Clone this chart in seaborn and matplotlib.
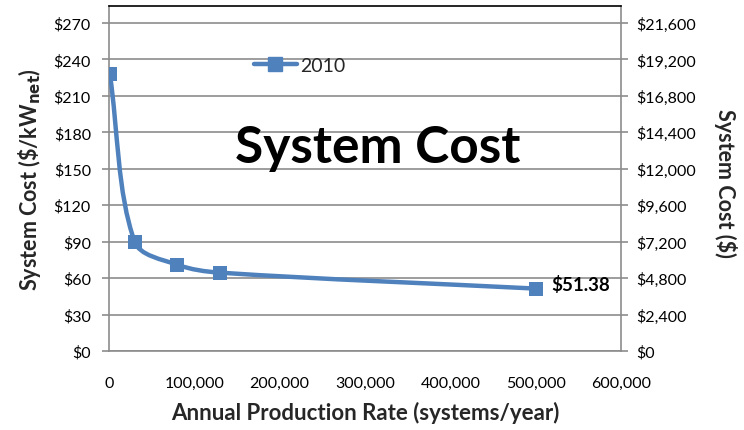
import numpy as np
import pandas as pd
import matplotlib
matplotlib.use("Agg")
import matplotlib.pyplot as plt
from matplotlib.path import Path
from matplotlib.patches import PathPatch
from matplotlib.lines import Line2D
from matplotlib.ticker import FuncFormatter
import seaborn as sns

# Annual production rate (systems/year) and system cost ($/kW_net), 2010
production_rate = [1000, 30000, 80000, 130000, 500000]
cost_per_kw = [228.0, 90.0, 71.0, 64.5, 51.38]
series_name = "2010"
x_ticks = [0, 100000, 200000, 300000, 400000, 500000, 600000]
left_ticks = [0, 30, 60, 90, 120, 150, 180, 210, 240, 270]
kw_per_system = 80  # right axis: total system cost = $/kW_net * 80 kW

df = pd.DataFrame({"rate": production_rate, "cost": cost_per_kw})

sns.set_theme(style="white")
plt.rcParams["font.family"] = ["Lato", "DejaVu Sans"]

BLUE = "#4F81BD"
GRID = "#8C8C8C"

fig = plt.figure(figsize=(7.44, 4.31), dpi=100)
AX_W, AX_H = 621 - 109, 352 - 7
ax = fig.add_axes([109 / 744, (431 - 352) / 431, AX_W / 744, AX_H / 431])

XMAX = 600000
YMAX = 270 + 17 / (328 / 270)
ax.set_xlim(0, XMAX)
ax.set_ylim(0, YMAX)
ax.set_xticks(x_ticks)
ax.set_yticks(left_ticks)
ax.yaxis.grid(True, color=GRID, linewidth=1.2)
ax.set_axisbelow(True)

# Smoothed connecting line: Bezier segments whose handles are scaled by the
# neighbouring segment lengths (measured in screen units to avoid overshoot)
sx, sy = AX_W / XMAX, AX_H / YMAX
pts = np.column_stack([np.array(production_rate, float) * sx,
                       np.array(cost_per_kw, float) * sy])
n = len(pts)
tangents = []
for i in range(n):
    a = pts[i - 1] if i > 0 else pts[i]
    b = pts[i + 1] if i < n - 1 else pts[i]
    tangents.append(b - a)
verts = [tuple(pts[0])]
codes = [Path.MOVETO]
for i in range(n - 1):
    p1, p2 = pts[i], pts[i + 1]
    d = np.linalg.norm(p2 - p1)
    d_prev = np.linalg.norm(p1 - pts[i - 1]) if i > 0 else 0.0
    d_next = np.linalg.norm(pts[i + 2] - p2) if i + 2 < n else 0.0
    k1 = d / (d_prev + d) / 3.0 if i > 0 else 1 / 3.0
    k2 = d / (d + d_next) / 3.0 if i + 2 < n else 1 / 3.0
    t1 = tangents[i] if i > 0 else (p2 - p1)
    t2 = tangents[i + 1] if i + 2 < n else (p2 - p1)
    c1 = p1 + t1 * k1
    c2 = p2 - t2 * k2
    verts += [tuple(c1), tuple(c2), tuple(p2)]
    codes += [Path.CURVE4] * 3
verts = [(vx / sx, vy / sy) for vx, vy in verts]
ax.add_patch(PathPatch(Path(verts, codes), facecolor="none", edgecolor=BLUE,
                       linewidth=3.2, capstyle="round", joinstyle="round", zorder=3))

sns.scatterplot(data=df, x="rate", y="cost", marker="s", s=95, color=BLUE,
                edgecolor=BLUE, linewidth=0, ax=ax, zorder=4, legend=False)

# Value label on last point
ax.text(production_rate[-1] + 18000, cost_per_kw[-1] + 4, f"${cost_per_kw[-1]:.2f}",
        fontsize=13.5, fontweight="bold", va="center", ha="left", color="black")

ax.text(0.525, 0.59, "System Cost", transform=ax.transAxes, fontsize=37,
        fontweight="bold", ha="center", va="center", color="black")

handle = Line2D([], [], color=BLUE, linewidth=3.2, marker="s", markersize=9.5)
ax.legend([handle], [series_name], loc="center left", bbox_to_anchor=(0.283, 0.828),
          frameon=False, fontsize=14, handlelength=2.2, handletextpad=0.2,
          borderaxespad=0, borderpad=0)

fmt_money = FuncFormatter(lambda v, p: f"${v:,.0f}")
ax.yaxis.set_major_formatter(fmt_money)
ax.xaxis.set_major_formatter(FuncFormatter(lambda v, p: f"{v:,.0f}"))

for s in ["left", "bottom", "right"]:
    ax.spines[s].set_color(GRID)
    ax.spines[s].set_linewidth(1.2)
ax.spines["top"].set_color("black")
ax.spines["top"].set_linewidth(1.2)

ax.tick_params(axis="both", which="major", length=5, width=1.2, color=GRID,
               labelsize=11.5, labelcolor="black", direction="out")
ax.tick_params(axis="x", pad=13)
ax.tick_params(axis="y", pad=8)

ax.set_xlabel("Annual Production Rate (systems/year)", fontsize=16,
              fontweight="bold", labelpad=8)
ax.set_ylabel(r"System Cost (\$/kW$_{\mathbf{net}}$)", fontsize=15.5, fontweight="bold")
ax.yaxis.set_label_coords((30 - 109) / AX_W, 0.5)
ax.yaxis.label.set_va("center")

ax2 = ax.twinx()
lo, hi = ax.get_ylim()
ax2.set_ylim(lo * kw_per_system, hi * kw_per_system)
ax2.set_yticks([t * kw_per_system for t in left_ticks])
ax2.yaxis.set_major_formatter(fmt_money)
ax2.tick_params(axis="y", length=5, width=1.2, color=GRID, labelsize=11.5,
                labelcolor="black", direction="out", pad=6)
for s in ax2.spines.values():
    s.set_visible(False)
ax2.set_ylabel("System Cost ($)", fontsize=15.5, fontweight="bold", rotation=270)
ax2.yaxis.set_label_coords((725 - 109) / AX_W, 0.49)
ax2.yaxis.label.set_va("center")

fig.savefig("out.png", dpi=100)
